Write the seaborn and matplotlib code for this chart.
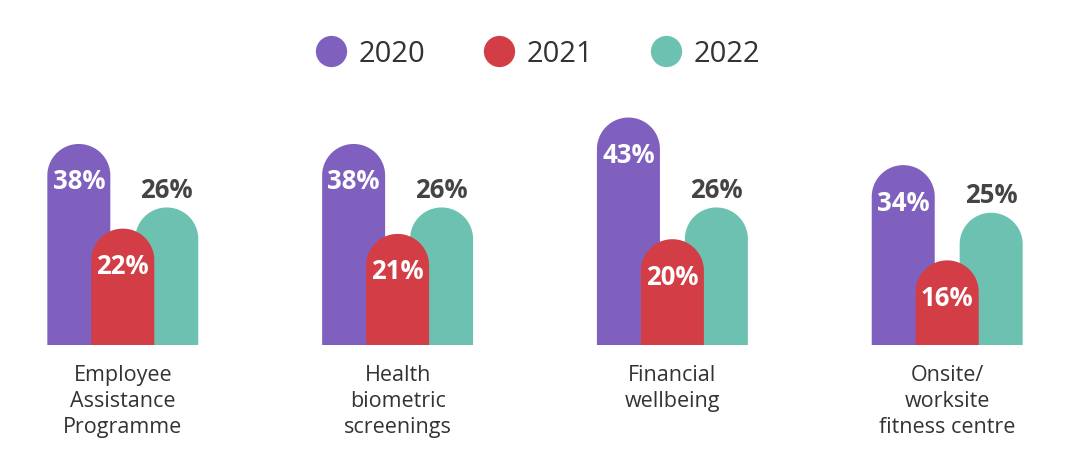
import matplotlib
matplotlib.use("Agg")
import matplotlib.pyplot as plt
from matplotlib.path import Path
from matplotlib.patches import PathPatch
from matplotlib.lines import Line2D
import numpy as np
import pandas as pd
import seaborn as sns

categories = ["Employee\nAssistance\nProgramme", "Health\nbiometric\nscreenings",
              "Financial\nwellbeing", "Onsite/\nworksite\nfitness centre"]
years = ["2020", "2021", "2022"]
values_2020 = [38, 38, 43, 34]
values_2021 = [22, 21, 20, 16]
values_2022 = [26, 26, 26, 25]

colors = {"2020": "#7F60BF", "2021": "#D33D45", "2022": "#6CC1B1"}
zorders = {"2020": 2, "2021": 4, "2022": 3}

rows = []
for i, c in enumerate(categories):
    for y, vals in zip(years, [values_2020, values_2021, values_2022]):
        rows.append({"category": c, "year": y, "value": vals[i]})
df = pd.DataFrame(rows)

sns.set_theme(style="white")
FONT = ["Open Sans", "DejaVu Sans"]
plt.rcParams["font.family"] = FONT

W, H = 1080, 475
fig = plt.figure(figsize=(W / 100, H / 100), dpi=100)
px_per_unit = 274.8
x0_px = 122.8
px_per_pct = 5.29
base_px = 345
ytop = 50
ax = fig.add_axes([0, (H - base_px) / H, 1, ytop * px_per_pct / H])

sns.barplot(data=df, x="category", y="value", hue="year", hue_order=years,
            order=categories, palette=colors, width=0.48, dodge=True,
            legend=False, ax=ax, errorbar=None)
ax.set_xlim(-x0_px / px_per_unit, (W - x0_px) / px_per_unit)
ax.set_ylim(0, ytop)

bar_w = 63 / px_per_unit
rx = bar_w / 2
ry = (63 / 2) / px_per_pct

def nearest_year(fc):
    return min(colors, key=lambda k: sum((a - b) ** 2 for a, b in
                                         zip(matplotlib.colors.to_rgb(colors[k]), fc[:3])))

rects = list(ax.patches)
for r in rects:
    cx = r.get_x() + r.get_width() / 2
    h = r.get_height()
    yr = nearest_year(r.get_facecolor())
    r.remove()
    t = np.linspace(np.pi, 0, 60)
    xs = np.concatenate([[cx - rx], cx + rx * np.cos(t), [cx + rx, cx - rx]])
    ys = np.concatenate([[0], h - ry + ry * np.sin(t), [0, 0]])
    verts = np.column_stack([xs, ys])
    patch = PathPatch(Path(verts, closed=True), facecolor=colors[yr], edgecolor="none",
                      zorder=zorders[yr])
    ax.add_patch(patch)
    if yr == "2022":
        ax.text(cx, h + 17 / px_per_pct, f"{int(h)}%", ha="center", va="center",
                fontsize=18.5, fontweight="bold", color="#444444", zorder=6)
    else:
        ax.text(cx, h - 38 / px_per_pct, f"{int(h)}%", ha="center", va="center",
                fontsize=18.5, fontweight="bold", color="white", zorder=6)

for i, c in enumerate(categories):
    ax.text(i, -20 / px_per_pct, c, ha="center", va="top", fontsize=15.5,
            color="#333333", linespacing=1.3, clip_on=False)

ax.set_axis_off()

handles = [Line2D([0], [0], marker="o", linestyle="none", markersize=22.5,
                  markerfacecolor=colors[y], markeredgecolor="none") for y in years]
fig.legend(handles, years, loc="center", bbox_to_anchor=(538.5 / W, 1 - 54 / H),
           ncol=3, frameon=False, handlelength=1.0,
           handletextpad=0.45, columnspacing=2.0,
           prop={"family": FONT, "size": 21, "weight": "normal"},
           labelcolor="#333333")

fig.savefig("out.png", dpi=100, facecolor="white")
